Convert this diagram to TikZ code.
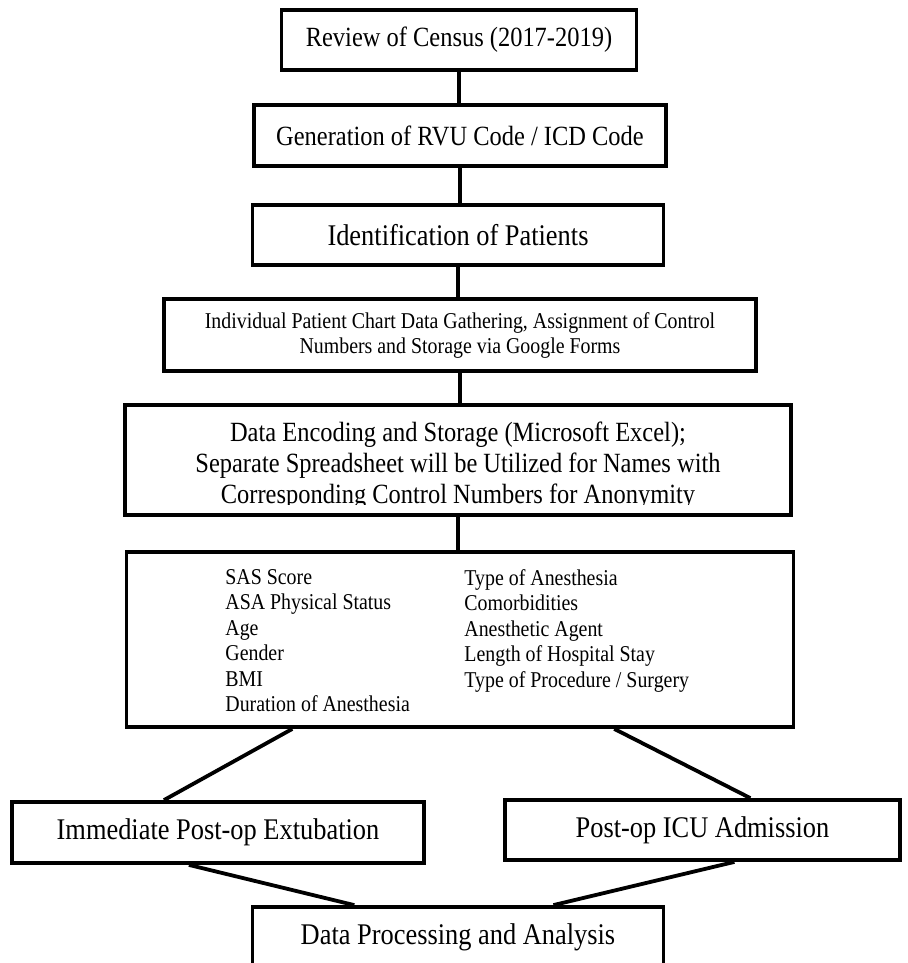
\documentclass[tikz,border=0pt]{standalone}
\usepackage{fontspec}
\setmainfont{Liberation Serif}[FakeStretch=0.88]
\usetikzlibrary{calc}
\tikzset{
    flow-box/.style = {draw=black, line width=1.9pt, rectangle, inner sep=0pt, align=center},
    flow-text/.style = {font=\fontsize{13.9}{15.5}\selectfont},
    flow-text-large/.style = {font=\fontsize{15}{17}\selectfont},
    flow-text-small/.style = {font=\fontsize{11.3}{12.5}\selectfont},
    flow-list/.style = {font=\fontsize{11.3}{12.75}\selectfont, align=left, inner sep=0pt},
    flow-link/.style = {draw=black, line width=1.9pt},
}

\begin{document}
\begin{tikzpicture}[x=0.5pt, y=-0.5pt]
\useasboundingbox (0,0) rectangle (907,963);
\node [flow-box, flow-text, minimum width=177.5pt, minimum height=30pt] (census) at (459,40) {Review of Census (2017-2019)};
\node [flow-box, flow-text, minimum width=206pt, minimum height=30.5pt] (codes) at (460,135.5) {Generation of RVU Code / ICD Code};
\node [flow-box, flow-text-large, minimum width=205.5pt, minimum height=30pt] (patients) at (458,235) {Identification of Patients};
\node [flow-box, flow-text-small, minimum width=296pt, minimum height=36pt] (gathering) at (460,335) {Individual Patient Chart Data Gathering, Assignment of Control\\Numbers and Storage via Google Forms};
\begin{scope}
\clip (0,405) rectangle (907,504);
\node [flow-text, align=center, inner sep=0pt] (encoding-text) at (458,465.5) {Data Encoding and Storage (Microsoft Excel);\\Separate Spreadsheet will be Utilized for Names with\\Corresponding Control Numbers for Anonymity};
\end{scope}
\node [flow-box, minimum width=333pt, minimum height=55pt] (encoding) at (458,460) {};
\node [flow-box, minimum width=333.5pt, minimum height=87.5pt] (variables) at (460,639.5) {};
\node [flow-list, anchor=north west] (variables-left) at (225,569) {SAS Score\\ASA Physical Status\\Age\\Gender\\BMI\\Duration of Anesthesia};
\node [flow-list, anchor=north west] (variables-right) at (464,569) {Type of Anesthesia\\Comorbidities\\Anesthetic Agent\\Length of Hospital Stay\\Type of Procedure / Surgery};
\node [flow-box, flow-text-large, minimum width=206pt, minimum height=30.5pt] (extubation) at (218,832.5) {Immediate Post-op Extubation};
\node [flow-box, flow-text-large, minimum width=197.5pt, minimum height=30pt] (icu) at (702.5,830) {Post-op ICU Admission};
\node [flow-box, flow-text-large, minimum width=205.5pt, minimum height=30pt] (analysis) at (458,937) {Data Processing and Analysis};

\draw [flow-link] (census.south) -- (census.south |- codes.north);
\draw [flow-link] (codes.south) -- (codes.south |- patients.north);
\draw [flow-link] (patients.south) -- (patients.south |- gathering.north);
\draw [flow-link] (gathering.south) -- (gathering.south |- encoding.north);
\draw [flow-link] (encoding.south) -- (encoding.south |- variables.north);
\draw [flow-link] ($(variables.south west)!0.25!(variables.south east)$) -- ($(extubation.north west)!0.37!(extubation.north east)$);
\draw [flow-link] ($(variables.south west)!0.73!(variables.south east)$) -- ($(icu.north west)!0.62!(icu.north east)$);
\draw [flow-link] ($(extubation.south west)!0.43!(extubation.south east)$) -- ($(analysis.north west)!0.25!(analysis.north east)$);
\draw [flow-link] ($(icu.south west)!0.58!(icu.south east)$) -- ($(analysis.north west)!0.73!(analysis.north east)$);
\end{tikzpicture}
\end{document}
